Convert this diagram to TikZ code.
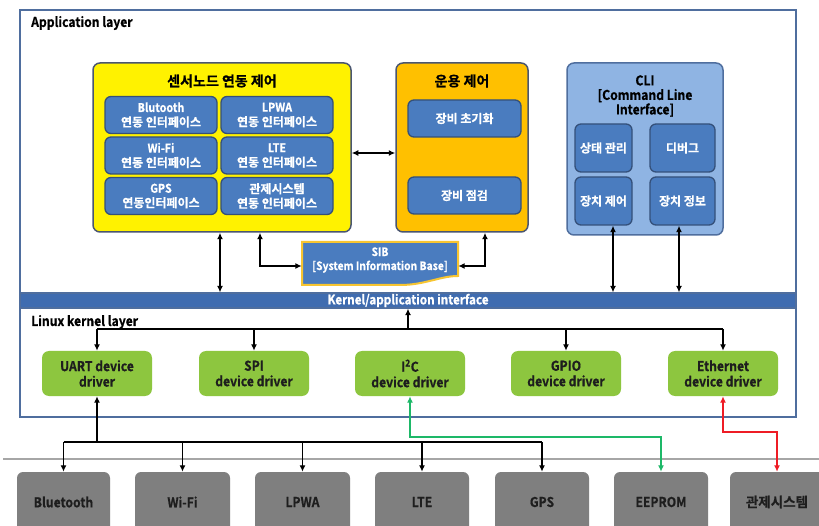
\documentclass[tikz,border=0pt]{standalone}
\usepackage{fontspec}
\setmainfont{Noto Sans CJK KR}[FakeStretch=0.9, BoldFont={* Bold}, BoldFeatures={FakeBold=0.6}]
\newfontfamily\hf{Noto Sans CJK KR}[BoldFont={* Bold}, BoldFeatures={FakeBold=0.6}]
\usetikzlibrary{arrows.meta,calc}

\definecolor{frameblue}{HTML}{4F6E9E}
\definecolor{barblue}{HTML}{3F6CB0}
\definecolor{ylw}{HTML}{FFF200}
\definecolor{org}{HTML}{FFC000}
\definecolor{panelline}{HTML}{4A5670}
\definecolor{innerblue}{HTML}{4A7CBF}
\definecolor{innerline}{HTML}{34507A}
\definecolor{cliblue}{HTML}{8FB4E3}
\definecolor{cliline}{HTML}{4F6E9E}
\definecolor{drvgreen}{HTML}{8DC63F}
\definecolor{devgray}{HTML}{7F7F7F}
\definecolor{lnkgreen}{HTML}{1DB868}
\definecolor{lnkred}{HTML}{EE1C25}
\definecolor{sibedge}{HTML}{F7C531}
\definecolor{sepgray}{HTML}{A6A6A6}
\definecolor{darktext}{HTML}{1E1E1E}

\begin{document}
\begin{tikzpicture}[x=1pt,y=-1pt,
  every node/.style={align=center, inner sep=0pt},
  sz/.style 2 args={minimum width=#1, minimum height=#2},
  >={Latex[length=6.5pt,width=6pt]},
  frame/.style={draw=frameblue, line width=2pt},
  bar/.style={fill=barblue, draw=frameblue, line width=1.2pt, text=white,
    font=\bfseries\fontsize{13}{15}\selectfont},
  layerlbl/.style={anchor=west, text=black, font=\bfseries\fontsize{13.5}{15}\selectfont},
  panel/.style={draw=panelline, line width=1.5pt, rounded corners=7pt},
  ptitle/.style={text=black, font=\bfseries\fontsize{14}{15}\selectfont},
  ctitle/.style={text=black, font=\bfseries\fontsize{13.5}{14.5}\selectfont},
  ifbox/.style={draw=innerline, fill=innerblue, line width=1.3pt, rounded corners=6pt,
    text=white, font=\bfseries\fontsize{12}{14.5}\selectfont},
  sibtext/.style={text=white, font=\bfseries\fontsize{11.5}{14}\selectfont},
  drv/.style={fill=drvgreen, rounded corners=7pt, text=darktext,
    font=\bfseries\fontsize{13.5}{15.5}\selectfont},
  dev/.style={fill=devgray, rounded corners=6pt, text=darktext,
    font=\bfseries\fontsize{13.5}{15}\selectfont},
  lk/.style={draw=black, line width=1.8pt},
  glink/.style={draw=lnkgreen, line width=1.8pt},
  rlink/.style={draw=lnkred, line width=1.8pt}
]
\clip (0,0) rectangle (819,526);
\fill[white] (0,0) rectangle (819,526);

% layer frames and the kernel/application bar
\draw[frame] (20,10) rectangle (796,293);
\draw[frame] (20,308) rectangle (796,417);
\node[bar, sz={776}{15}] (bar) at (408,300.5) {Kernel/application interface};
\node[layerlbl] (applbl) at (31,23) {Application layer};
\node[layerlbl] (krnlbl) at (31,322) {Linux kernel layer};

% sensor node interworking control
\node[panel, fill=ylw, sz={258}{169}] (yel) at (222,147.5) {};
\node[ptitle] (yelt) at (222,81) {\hf 센서노드 연동 제어};
\node[ifbox, sz={112}{37}] (ifbt)   at (161,115)   {Blutooth\\{\hf 연동 인터페이스}};
\node[ifbox, sz={112}{37}] (iflpwa) at (277,115)   {LPWA\\{\hf 연동 인터페이스}};
\node[ifbox, sz={112}{37}] (ifwifi) at (161,155.5) {Wi-Fi\\{\hf 연동 인터페이스}};
\node[ifbox, sz={112}{37}] (iflte)  at (277,155.5) {LTE\\{\hf 연동 인터페이스}};
\node[ifbox, sz={112}{37}] (ifgps)  at (161,196)   {GPS\\{\hf 연동인터페이스}};
\node[ifbox, sz={112}{37}] (ifctrl) at (277,196)   {{\hf 관제시스템}\\{\hf 연동 인터페이스}};

% operation control
\node[panel, fill=org, sz={132}{169}] (ora) at (462,147.5) {};
\node[ptitle] (orat) at (462,81) {\hf 운용 제어};
\node[ifbox, sz={113}{37}] (init)  at (464.5,118.5) {\hf 장비 초기화};
\node[ifbox, sz={113}{37}] (check) at (464.5,195.5) {\hf 장비 점검};

% command line interface
\node[panel, draw=cliline, fill=cliblue, sz={156}{172}] (cli) at (645,149) {};
\node[ctitle] (clit) at (645,96) {CLI\\{[}Command Line\\Interface{]}};
\node[ifbox, sz={57}{48}] (cstate) at (603.5,148) {\hf 상태 관리};
\node[ifbox, sz={65}{48}] (cdebug) at (682.5,148) {\hf 디버그};
\node[ifbox, sz={57}{48}] (cctl)   at (603.5,201) {\hf 장치 제어};
\node[ifbox, sz={65}{48}] (cinfo)  at (682.5,201) {\hf 장치 정보};

% system information base
\draw[draw=sibedge, line width=2pt, fill=innerblue]
  (302,242) -- (458,242) -- (458,276)
  .. controls (440,276) and (425,285) .. (400,285) -- (302,285) -- cycle;
\node[sibtext, sz={156}{40}] (sib) at (380,260) {SIB\\{[}System Information Base{]}};

% application layer connectors
\draw[lk,<->] ([yshift=-5.5pt]yel.east) -- ([yshift=-5.5pt]ora.west);
\draw[lk,<->] ([xshift=-2pt]yel.south) -- ([xshift=-2pt]yel.south |- bar.north);
\draw[lk,<->] ([xshift=38pt]yel.south) |- ([yshift=-6pt]sib.west);
\draw[lk,<->] ([yshift=-6pt]sib.east) -| ([xshift=23pt]ora.south);
\draw[lk,<->] ([xshift=9.5pt]cctl.south) -- ([xshift=9.5pt]cctl.south |- bar.north);
\draw[lk,<->] ([xshift=-3.5pt]cinfo.south) -- ([xshift=-3.5pt]cinfo.south |- bar.north);

% device drivers
\node[drv, sz={110}{45}] (uart) at (97,373.5)  {UART device\\driver};
\node[drv, sz={110}{45}] (spi)  at (254,373.5) {SPI\\device driver};
\node[drv, sz={110}{45}] (i2c)  at (410,373.5) {I\textsuperscript{2}C\\device driver};
\node[drv, sz={110}{45}] (gpio) at (566,373.5) {GPIO\\device driver};
\node[drv, sz={110}{45}] (eth)  at (723,373.5) {Ethernet\\device driver};

\coordinate (kj) at (408,329);
\draw[lk,->] (kj) -- (kj |- bar.south);
\draw[lk] (uart.north |- kj) -- (eth.north |- kj);
\foreach \d in {uart,spi,gpio,eth} \draw[lk,->] (\d.north |- kj) -- (\d.north);

% hardware devices
\draw[draw=sepgray, line width=1.5pt] (3,459) -- (819,459);
\node[dev, sz={93}{60}] (btd)    at (63.5,502)  {Bluetooth};
\node[dev, sz={95}{60}] (wifi)   at (182.5,502) {Wi-Fi};
\node[dev, sz={95}{60}] (lpwa)   at (302.5,502) {LPWA};
\node[dev, sz={94}{60}] (lte)    at (422,502)   {LTE};
\node[dev, sz={94}{60}] (gps)    at (542,502)   {GPS};
\node[dev, sz={94}{60}] (eeprom) at (661,502)   {EEPROM};
\node[dev, sz={94}{60}] (ctrl)   at (777,502)   {\hf 관제시스템};

\coordinate (dj) at (97,442);
\draw[lk,<-] (uart.south) -- (uart.south |- dj);
\draw[lk] (btd.north |- dj) -- (gps.north |- dj);
\foreach \d in {btd,wifi,lpwa,lte,gps} \draw[lk,->] (\d.north |- dj) -- (\d.north);

\draw[glink,<->] (i2c.south) -- ++(0,41) -| (eeprom.north);
\draw[rlink,<->] (eth.south) -- ++(0,36) -| (ctrl.north);
\end{tikzpicture}
\end{document}
